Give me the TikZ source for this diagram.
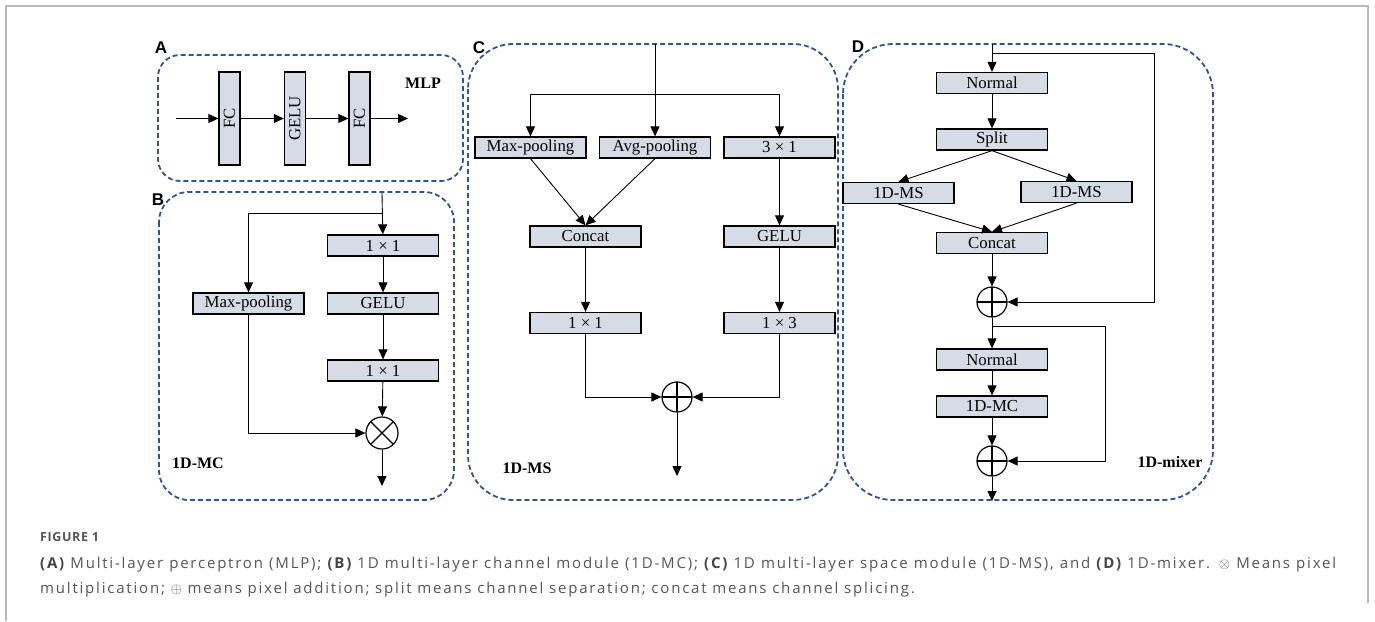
\documentclass[tikz,border=0pt]{standalone}
\usepackage{fontspec}
\setmainfont{Liberation Serif}
\newfontfamily\capfont[LetterSpace=12]{Open Sans}
\newfontfamily\capheadfont[LetterSpace=5]{Open Sans}
\newfontfamily\panelfont{Liberation Sans}
\usetikzlibrary{arrows.meta,calc}
\definecolor{boxfill}{RGB}{214,220,229}
\definecolor{dashblue}{RGB}{47,84,150}
\definecolor{captext}{RGB}{85,85,85}
\definecolor{capbold}{RGB}{70,70,70}
\definecolor{framegray}{RGB}{185,185,185}

\begin{document}
\begin{tikzpicture}[x=1pt,y=-1pt,
  box/.style={draw=black, fill=boxfill, line width=1.3pt, minimum width=111pt,
    minimum height=21pt, inner sep=0pt, font=\fontsize{16.8}{18}\selectfont},
  vbox/.style={box, rotate=90, minimum width=93pt},
  arr/.style={line width=0.9pt, -{Triangle[length=10pt,width=9pt]}},
  panel/.style={draw=dashblue, line width=1.8pt, dash pattern=on 5pt off 3pt},
  op/.style={circle, draw=black, line width=1.2pt, minimum size=30pt, inner sep=0pt},
  oplus/.style={op, path picture={\draw[line width=1.2pt]
      (path picture bounding box.north) -- (path picture bounding box.south)
      (path picture bounding box.west) -- (path picture bounding box.east);}},
  otimes/.style={op, minimum size=32pt, path picture={\draw[line width=1.2pt]
      ($(path picture bounding box.center)+(45:17pt)$) -- ($(path picture bounding box.center)+(225:17pt)$)
      ($(path picture bounding box.center)+(135:17pt)$) -- ($(path picture bounding box.center)+(315:17pt)$);}},
  paneltag/.style={font=\panelfont\bfseries\fontsize{17}{19}\selectfont},
  paneltitle/.style={font=\bfseries\fontsize{16}{18}\selectfont},
  captxt/.style={anchor=base west, text=captext, inner sep=0pt, font=\capfont\fontsize{15}{17}\selectfont}
]
\useasboundingbox (0,0) rectangle (1375,621);
\fill[white] (0,0) rectangle (1375,621);
% page frame
\draw[framegray, line width=1.5pt] (6,621) -- (6,6) -- (1368,6) -- (1368,603);

% ---------- panel borders ----------
\draw[panel, rounded corners=22pt] (158,55) rectangle (463,181);
\draw[panel, rounded corners=30pt] (159,192) rectangle (454,500);
\draw[panel, rounded corners=45pt] (468,44) rectangle (838,500);
\draw[panel, rounded corners=50pt] (843,44) rectangle (1213,500);

\node[paneltag] (tagA) at (161,48) {A};
\node[paneltag] (tagB) at (158,200) {B};
\node[paneltag] (tagC) at (479,48) {C};
\node[paneltag] (tagD) at (858,47) {D};

% ---------- A: MLP ----------
\node[vbox] (fc1) at (229.5,118.5) {FC};
\node[vbox] (geluA) at (295,118.5) {GELU};
\node[vbox] (fc2) at (359.5,118.5) {FC};
\coordinate (inA) at (176,118.5);
\coordinate (outA) at (408,118.5);
\draw[arr] (inA) -- (fc1);
\draw[arr] (fc1) -- (geluA);
\draw[arr] (geluA) -- (fc2);
\draw[arr] (fc2) -- (outA);
\node[paneltitle] (titleA) at (423,83) {MLP};

% ---------- B: 1D-MC ----------
\node[box] (mcA) at (383,245.5) {1 × 1};
\node[box] (mcGelu) at (383,303.5) {GELU};
\node[box] (mcB) at (383,370.5) {1 × 1};
\node[box] (mcMax) at (248.5,303.5) {Max-pooling};
\node[otimes] (mcMul) at (382,433) {};
\coordinate (inB) at (382,193);
\coordinate (brB) at (382,213);
\coordinate (outB) at (382,486);
\draw[arr] (inB) -- (mcA);
\draw[arr] (brB) -| (mcMax);
\draw[arr] (mcA) -- (mcGelu);
\draw[arr] (mcGelu) -- (mcB);
\draw[arr] (mcB) -- (mcMul);
\draw[arr] (mcMax) |- (mcMul);
\draw[arr] (mcMul) -- (outB);
\node[paneltitle] (titleB) at (198,463) {1D-MC};

% ---------- C: 1D-MS ----------
\node[box] (msMax) at (530.5,147.5) {Max-pooling};
\node[box] (msAvg) at (655,147.5) {Avg-pooling};
\node[box] (ms31) at (779.5,147.5) {3 × 1};
\node[box] (msCat) at (585.5,236.5) {Concat};
\node[box] (msGelu) at (779.5,236.5) {GELU};
\node[box] (ms11) at (585.5,323) {1 × 1};
\node[box] (ms13) at (779.5,323) {1 × 3};
\node[oplus] (msAdd) at (677,397) {};
\coordinate (inC) at (655,44);
\coordinate (brC) at (655,94);
\coordinate (outC) at (677,476);
\draw[arr] (inC) -- (msAvg);
\draw[arr] (brC) -| (msMax);
\draw[arr] (brC) -| (ms31);
\draw[arr] (msMax.south) -- (msCat.north);
\draw[arr] (msAvg.south) -- (msCat.north);
\draw[arr] (ms31) -- (msGelu);
\draw[arr] (msCat) -- (ms11);
\draw[arr] (msGelu) -- (ms13);
\draw[arr] (ms11) |- (msAdd);
\draw[arr] (ms13) |- (msAdd);
\draw[arr] (msAdd) -- (outC);
\node[paneltitle] (titleC) at (527,468) {1D-MS};

% ---------- D: 1D-mixer ----------
\node[box] (mxNorm1) at (992,83) {Normal};
\node[box] (mxSplit) at (992,139.5) {Split};
\node[box] (mxMsL) at (898.5,193) {1D-MS};
\node[box] (mxMsR) at (1076.5,192) {1D-MS};
\node[box] (mxCat) at (992,243) {Concat};
\node[oplus] (mxAdd1) at (992,302) {};
\node[box] (mxNorm2) at (992,359.5) {Normal};
\node[box] (mxMc) at (992,406.5) {1D-MC};
\node[oplus] (mxAdd2) at (992,461) {};
\coordinate (inD) at (992,44);
\coordinate (brD) at (992,53);
\coordinate (skipD) at (1154,53);
\coordinate (brD2) at (992,326);
\coordinate (skipD2) at (1105,326);
\coordinate (outD) at (992,501);
\draw[arr] (inD) -- (mxNorm1);
\draw[arr] (brD) -- (skipD) |- (mxAdd1);
\draw[arr] (mxNorm1) -- (mxSplit);
\draw[arr] (mxSplit.south) -- (mxMsL.north);
\draw[arr] (mxSplit.south) -- (mxMsR.north);
\draw[arr] (mxMsL.south) -- (mxCat.north);
\draw[arr] (mxMsR.south) -- (mxCat.north);
\draw[arr] (mxCat) -- (mxAdd1);
\draw[arr] (mxAdd1) -- (mxNorm2);
\draw[arr] (brD2) -- (skipD2) |- (mxAdd2);
\draw[arr] (mxNorm2) -- (mxMc);
\draw[arr] (mxMc) -- (mxAdd2);
\draw[arr] (mxAdd2) -- (outD);
\node[paneltitle] (titleD) at (1170,462) {1D-mixer};

% ---------- caption (first line justified) ----------
\node[captxt, font=\capheadfont\bfseries\fontsize{12.5}{15}\selectfont] (figno) at (40,541) {FIGURE 1};
\node[captxt] (capA) at (40,568) {\makebox[1296pt][s]{{\color{capbold}\bfseries(A)} Multi-layer perceptron (MLP); {\color{capbold}\bfseries(B)} 1D multi-layer channel module (1D-MC); {\color{capbold}\bfseries(C)} 1D multi-layer space module (1D-MS), and {\color{capbold}\bfseries(D)} 1D-mixer. $\otimes$ Means pixel}};
\node[captxt] (capB) at (40,593) {multiplication; $\oplus$ means pixel addition; split means channel separation; concat means channel splicing.};
\end{tikzpicture}
\end{document}
